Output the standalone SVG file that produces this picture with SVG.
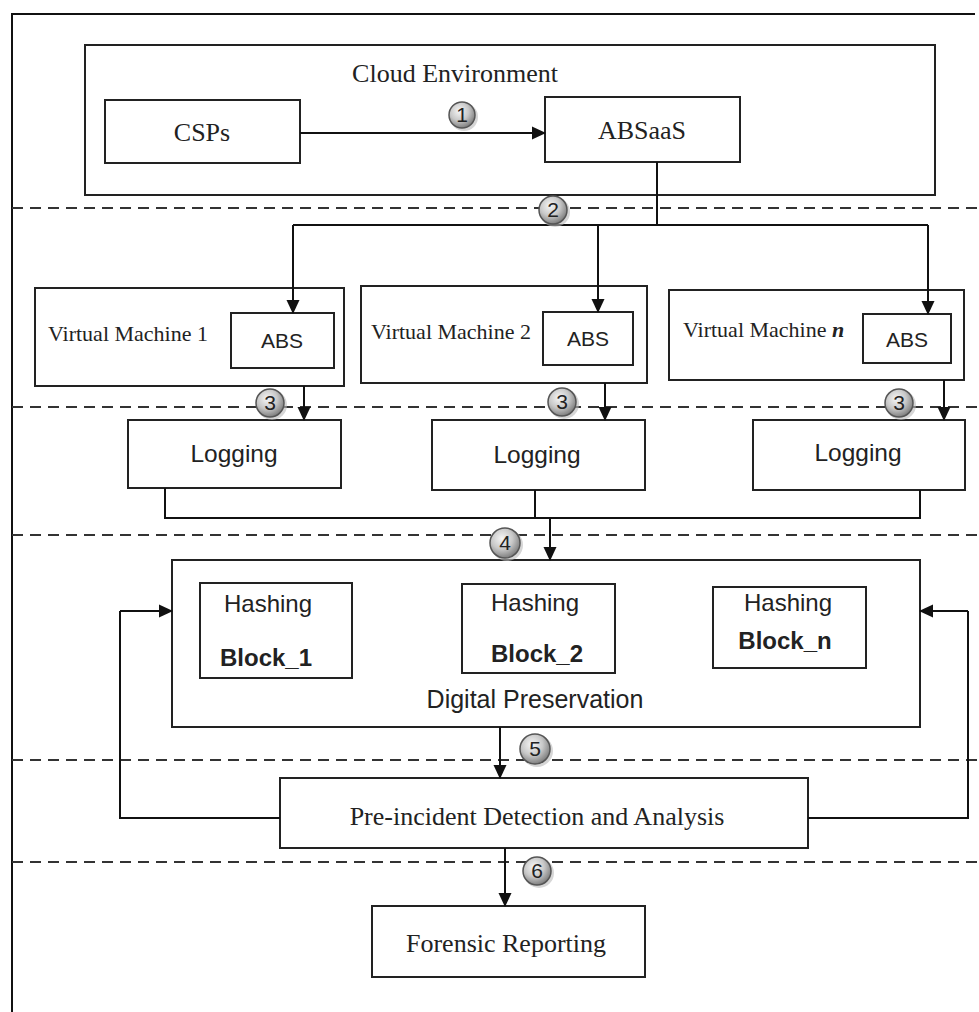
<svg xmlns="http://www.w3.org/2000/svg" width="979" height="1012" viewBox="0 0 979 1012">
<defs>
<marker id="ah" markerWidth="14" markerHeight="14" refX="13" refY="6.5" orient="auto" markerUnits="userSpaceOnUse" viewBox="0 0 14 13">
<path d="M0,0 L14,6.5 L0,13 z" fill="#111"/>
</marker>
<radialGradient id="cg" cx="40%" cy="35%" r="65%">
<stop offset="0" stop-color="#f6f6f6"/>
<stop offset="0.55" stop-color="#c8c8c8"/>
<stop offset="1" stop-color="#808080"/>
</radialGradient>
<style>
.box{fill:#fff;stroke:#222;stroke-width:2}
.ln{fill:none;stroke:#111;stroke-width:2}
.arr{fill:none;stroke:#111;stroke-width:2;marker-end:url(#ah)}
.dash{stroke:#333;stroke-width:2.2;stroke-dasharray:11 7}
.serif{font-family:"Liberation Serif","Times New Roman",serif;fill:#222}
.sans{font-family:"Liberation Sans",Arial,sans-serif;fill:#222}
.num{font-family:"Liberation Sans",Arial,sans-serif;font-size:21px;fill:#222;text-anchor:middle}
.circ{fill:url(#cg);stroke:#555;stroke-width:1.5}
.shadow{fill:#bbb;opacity:0.6}
</style>
</defs>
<rect width="979" height="1012" fill="#fff"/>
<path d="M12,1012 V14 H975" class="ln"/>

<g id="dashes">
<line x1="12" y1="208" x2="979" y2="208" class="dash"/>
<line x1="12" y1="407" x2="979" y2="407" class="dash"/>
<line x1="12" y1="535" x2="979" y2="535" class="dash"/>
<line x1="12" y1="760" x2="979" y2="760" class="dash"/>
<line x1="12" y1="862" x2="979" y2="862" class="dash"/>
</g>

<g id="cloud">
<rect x="85" y="45" width="850" height="150" class="box"/>
<text x="455" y="82" class="serif" font-size="26" text-anchor="middle">Cloud Environment</text>
</g>
<g id="csps">
<rect x="105" y="100" width="195" height="63" class="box"/>
<text x="202" y="141" class="serif" font-size="26" text-anchor="middle">CSPs</text>
</g>
<g id="absaas">
<rect x="545" y="97" width="195" height="65" class="box"/>
<text x="642" y="139" class="serif" font-size="26" text-anchor="middle">ABSaaS</text>
</g>

<g id="vm1">
<rect x="35" y="288" width="309" height="98" class="box"/>
<text x="48" y="341" class="serif" font-size="22">Virtual Machine 1</text>
<rect x="231" y="313" width="103" height="55" class="box"/>
<text x="282" y="348" class="sans" font-size="21" text-anchor="middle">ABS</text>
</g>
<g id="vm2">
<rect x="361" y="286" width="286" height="97" class="box"/>
<text x="371" y="339" class="serif" font-size="22">Virtual Machine 2</text>
<rect x="543" y="312" width="90" height="53" class="box"/>
<text x="588" y="346" class="sans" font-size="21" text-anchor="middle">ABS</text>
</g>
<g id="vmn">
<rect x="669" y="290" width="295" height="90" class="box"/>
<text x="683" y="337" class="serif" font-size="22">Virtual Machine <tspan font-style="italic" font-weight="bold">n</tspan></text>
<rect x="863" y="314" width="88" height="49" class="box"/>
<text x="907" y="347" class="sans" font-size="21" text-anchor="middle">ABS</text>
</g>

<g id="log1">
<rect x="128" y="420" width="213" height="68" class="box"/>
<text x="234" y="462" class="sans" font-size="24.5" text-anchor="middle">Logging</text>
</g>
<g id="log2">
<rect x="432" y="420" width="213" height="70" class="box"/>
<text x="537" y="463" class="sans" font-size="24.5" text-anchor="middle">Logging</text>
</g>
<g id="log3">
<rect x="753" y="420" width="212" height="70" class="box"/>
<text x="858" y="461" class="sans" font-size="24.5" text-anchor="middle">Logging</text>
</g>

<g id="dp">
<rect x="172" y="560" width="748" height="167" class="box"/>
<text x="535" y="708" class="sans" font-size="25" text-anchor="middle">Digital Preservation</text>
</g>
<g id="hash1">
<rect x="200" y="583" width="152" height="95" class="box"/>
<text x="268" y="612" class="sans" font-size="24" text-anchor="middle">Hashing</text>
<text x="266" y="666" class="sans" font-size="24" font-weight="bold" text-anchor="middle">Block_1</text>
</g>
<g id="hash2">
<rect x="462" y="584" width="153" height="89" class="box"/>
<text x="535" y="611" class="sans" font-size="24" text-anchor="middle">Hashing</text>
<text x="537" y="662" class="sans" font-size="24" font-weight="bold" text-anchor="middle">Block_2</text>
</g>
<g id="hashn">
<rect x="713" y="587" width="153" height="81" class="box"/>
<text x="788" y="611" class="sans" font-size="24" text-anchor="middle">Hashing</text>
<text x="785" y="649" class="sans" font-size="24" font-weight="bold" text-anchor="middle">Block_n</text>
</g>

<g id="pre">
<rect x="280" y="778" width="528" height="70" class="box"/>
<text x="537" y="825" class="serif" font-size="26" text-anchor="middle">Pre-incident Detection and Analysis</text>
</g>
<g id="forensic">
<rect x="372" y="906" width="273" height="71" class="box"/>
<text x="506" y="952" class="serif" font-size="26" text-anchor="middle">Forensic Reporting</text>
</g>

<g id="connectors">
<line x1="300" y1="133" x2="545" y2="133" class="arr"/>
<path d="M657,162 V225" class="ln"/>
<path d="M293,225 H928" class="ln"/>
<line x1="293" y1="225" x2="293" y2="313" class="arr"/>
<line x1="598" y1="225" x2="598" y2="312" class="arr"/>
<line x1="928" y1="225" x2="928" y2="314" class="arr"/>
<line x1="304" y1="386" x2="304" y2="420" class="arr"/>
<line x1="605" y1="383" x2="605" y2="420" class="arr"/>
<line x1="944" y1="380" x2="944" y2="420" class="arr"/>
<path d="M165,488 V518 H920 V490" class="ln"/>
<path d="M535,490 V518" class="ln"/>
<line x1="550" y1="518" x2="550" y2="560" class="arr"/>
<line x1="500" y1="727" x2="500" y2="778" class="arr"/>
<path d="M280,818 H120 V611" class="ln"/>
<line x1="120" y1="611" x2="172" y2="611" class="arr"/>
<path d="M808,818 H968 V611" class="ln"/>
<line x1="968" y1="611" x2="920" y2="611" class="arr"/>
<line x1="505" y1="848" x2="505" y2="906" class="arr"/>
</g>

<g id="badges">
<circle cx="464" cy="117" r="14" class="shadow"/><circle cx="462" cy="115" r="13" class="circ"/><text x="462" y="122" class="num">1</text>
<circle cx="555" cy="212" r="15" class="shadow"/><circle cx="553" cy="210" r="14" class="circ"/><text x="553" y="217" class="num">2</text>
<circle cx="272" cy="405" r="15" class="shadow"/><circle cx="270" cy="403" r="14" class="circ"/><text x="270" y="410" class="num">3</text>
<circle cx="564" cy="404" r="15" class="shadow"/><circle cx="562" cy="402" r="14" class="circ"/><text x="562" y="409" class="num">3</text>
<circle cx="901" cy="405" r="15" class="shadow"/><circle cx="899" cy="403" r="14" class="circ"/><text x="899" y="410" class="num">3</text>
<circle cx="507" cy="545" r="16" class="shadow"/><circle cx="505" cy="543" r="15" class="circ"/><text x="505" y="550" class="num">4</text>
<circle cx="537" cy="751" r="16" class="shadow"/><circle cx="535" cy="749" r="15" class="circ"/><text x="535" y="756" class="num">5</text>
<circle cx="539" cy="873" r="15" class="shadow"/><circle cx="537" cy="871" r="14" class="circ"/><text x="537" y="878" class="num">6</text>
</g>
</svg>
